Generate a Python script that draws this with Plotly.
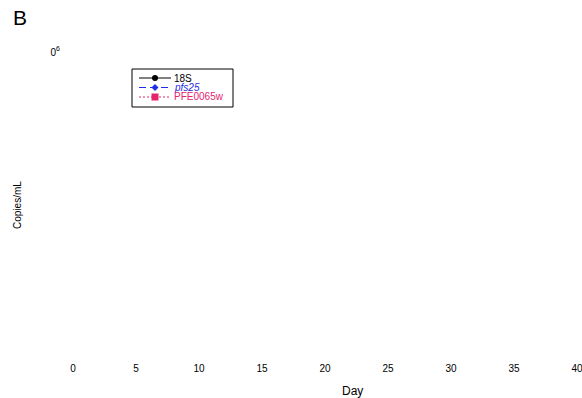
import plotly.graph_objects as go

# Series (no measurements plotted in this panel)
days = []
copies_18s = []
copies_pfs25 = []
copies_pfe0065w = []

x_ticks = [0, 5, 10, 15, 20, 25, 30, 35, 40]
y_tickvals = [1e6]
y_ticktext = ["0<sup>6</sup>"]

W, H = 582, 398
L, R, T, B = 73, 5, 52, 37
PW, PH = W - L - R, H - T - B


def px(x):
    return (x - L) / PW


def py(y):
    return 1 - (y - T) / PH


BLACK = "#000000"
BLUE = "#1f2de6"
PINK = "#e6246e"
FONT = "Liberation Sans, Arial, Helvetica, sans-serif"

fig = go.Figure()
fig.add_trace(go.Scatter(x=days, y=copies_18s, name="18S", mode="lines+markers",
                         line=dict(color=BLACK, width=1), marker=dict(symbol="circle", color=BLACK),
                         showlegend=False))
fig.add_trace(go.Scatter(x=days, y=copies_pfs25, name="pfs25", mode="lines+markers",
                         line=dict(color=BLUE, width=1, dash="dash"), marker=dict(symbol="diamond", color=BLUE),
                         showlegend=False))
fig.add_trace(go.Scatter(x=days, y=copies_pfe0065w, name="PFE0065w", mode="lines+markers",
                         line=dict(color=PINK, width=1, dash="dot"), marker=dict(symbol="square", color=PINK),
                         showlegend=False))

shapes = []
annotations = []

# legend box
shapes.append(dict(type="rect", xref="paper", yref="paper", x0=px(132), x1=px(233), y0=py(69), y1=py(107),
                   line=dict(color=BLACK, width=1), fillcolor="white", layer="above"))

rows = [
    (78, BLACK, "solid", "circle", "18S", False),
    (87.5, BLUE, "7px,4px", "diamond", "pfs25", True),
    (97, PINK, "2px,2px", "square", "PFE0065w", False),
]
for yy, col, dash, sym, label, italic in rows:
    shapes.append(dict(type="line", xref="paper", yref="paper", x0=px(139), x1=px(171), y0=py(yy), y1=py(yy),
                       line=dict(color=col, width=1, dash=dash), layer="above"))
    cx = 155
    if sym == "circle":
        shapes.append(dict(type="circle", xref="paper", yref="paper", x0=px(cx - 3), x1=px(cx + 3),
                           y0=py(yy - 3), y1=py(yy + 3), fillcolor=col, line=dict(color=col, width=0), layer="above"))
    elif sym == "diamond":
        path = (f"M {px(cx)} {py(yy - 3.5)} L {px(cx + 3.5)} {py(yy)} L {px(cx)} {py(yy + 3.5)} "
                f"L {px(cx - 3.5)} {py(yy)} Z")
        shapes.append(dict(type="path", xref="paper", yref="paper", path=path, fillcolor=col,
                           line=dict(color=col, width=0), layer="above"))
    else:
        shapes.append(dict(type="rect", xref="paper", yref="paper", x0=px(cx - 3.5), x1=px(cx + 3.5),
                           y0=py(yy - 3.5), y1=py(yy + 3.5), fillcolor=col, line=dict(color=col, width=0),
                           layer="above"))
    txt = f"<i>{label}</i>" if italic else label
    annotations.append(dict(text=txt, xref="paper", yref="paper", x=px(173), y=py(yy), xanchor="left",
                            yanchor="middle", showarrow=False, borderpad=0,
                            font=dict(family=FONT, size=10, color=col)))

annotations.append(dict(text="B", xref="paper", yref="paper", x=px(11), y=py(18), xanchor="left",
                        yanchor="middle", showarrow=False, font=dict(family=FONT, size=21, color=BLACK)))
annotations.append(dict(text="Day", xref="paper", yref="paper", x=px(352), y=py(391), xanchor="center",
                        yanchor="middle", showarrow=False, font=dict(family=FONT, size=12, color=BLACK)))
annotations.append(dict(text="Copies/mL", xref="paper", yref="paper", x=px(17), y=py(205), xanchor="center",
                        yanchor="middle", textangle=-90, showarrow=False,
                        font=dict(family=FONT, size=10, color=BLACK)))

fig.update_layout(
    width=W, height=H,
    margin=dict(l=L, r=R, t=T, b=B, pad=0, autoexpand=False),
    paper_bgcolor="white", plot_bgcolor="white",
    font=dict(family=FONT, size=10, color=BLACK),
    shapes=shapes, annotations=annotations,
    showlegend=False,
)
fig.update_xaxes(range=[0, 40], tickvals=x_ticks, showgrid=False, zeroline=False, showline=False,
                 ticks="", ticklabeloverflow="allow", automargin=False, tickfont=dict(size=10, color=BLACK))
fig.update_yaxes(type="log", range=[0, 6], tickvals=y_tickvals, ticktext=y_ticktext, showgrid=False,
                 zeroline=False, showline=False, ticks="", ticklabelstandoff=12, ticklabeloverflow="allow",
                 automargin=False, tickfont=dict(size=10, color=BLACK))

fig.write_html("out.html")
